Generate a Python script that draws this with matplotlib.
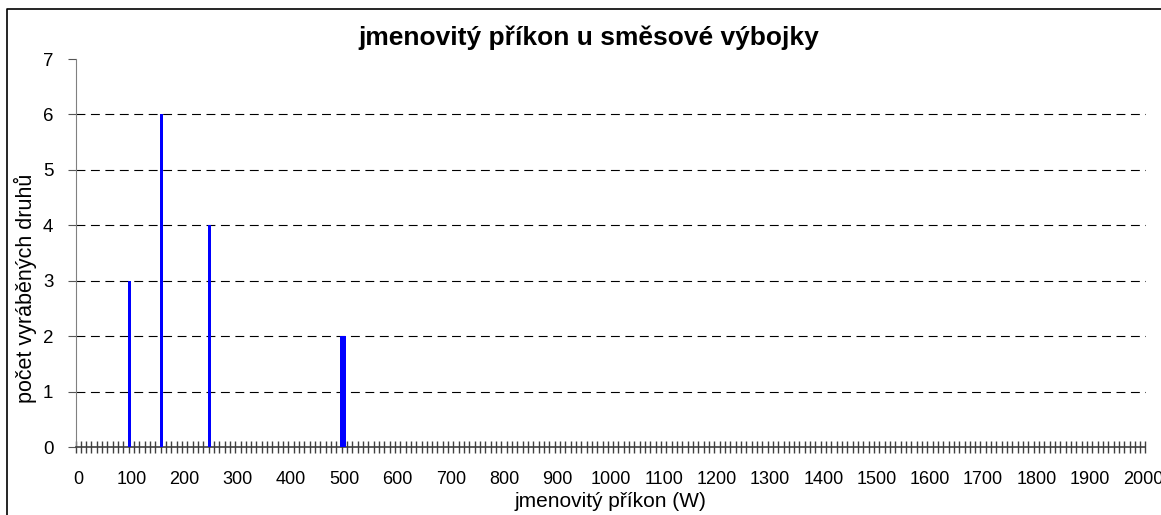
import numpy as np
import matplotlib.pyplot as plt

plt.rcParams['font.family'] = ['Liberation Sans', 'DejaVu Sans']

# data
prikon = [100, 160, 250, 500]      # W
pocet = [3, 6, 4, 2]

categories = np.arange(0, 2001, 10)
values = np.zeros(len(categories))
for p, n in zip(prikon, pocet):
    values[np.where(categories == p)[0][0]] = n

label_step = 100

fig = plt.figure(figsize=(11.61, 5.15), dpi=100)
# chart area border: only the top and left edges are visible in the picture
fig.add_artist(plt.Line2D([7 / 1161, 7 / 1161, 1.0], [0.0, 1 - 9 / 515, 1 - 9 / 515],
                          transform=fig.transFigure, color='black', linewidth=1.2))
ax = fig.add_axes([75.5 / 1161, 68 / 515, 1070 / 1161, 388 / 515])

idx = np.arange(len(categories))
widths = [1.1 if c == 500 else 0.6 for c in categories]
ax.bar(idx - 0.3, values, width=widths, color='#0000ff', zorder=3)

ax.set_xlim(-0.5, len(categories) - 0.5)
ax.set_ylim(0, 7)
ax.set_yticks(range(0, 8))
for y in range(1, 7):
    ax.axhline(y, color='black', linestyle=(0, (8, 5)), linewidth=0.8, zorder=1)

lab_idx = idx[categories % label_step == 0]
ax.set_xticks(lab_idx)
ax.set_xticklabels([str(c) for c in categories[lab_idx]])
ax.set_xticks(np.arange(-0.5, len(categories), 1), minor=True)
ax.tick_params(axis='x', which='major', length=0, pad=17, labelsize=13)
ax.tick_params(axis='x', which='minor', direction='inout', length=9, width=1.0, color='#404040')
ax.tick_params(axis='y', direction='out', length=6, width=0.8, color='#555555', labelsize=13.5, pad=10)

for s in ['top', 'right']:
    ax.spines[s].set_visible(False)
ax.spines['left'].set_color('#808080')
ax.spines['bottom'].set_color('#404040')
ax.spines['bottom'].set_linewidth(1.2)

ax.set_title('jmenovitý příkon u směsové výbojky', fontsize=19, fontweight='bold', pad=10, x=0.48)
ax.set_xlabel('jmenovitý příkon (W)', fontsize=15, labelpad=3)
ax.set_ylabel('počet vyráběných druhů', fontsize=15.5)
ax.yaxis.set_label_coords(-0.036, 0.41)

fig.savefig('out.png', dpi=100)
